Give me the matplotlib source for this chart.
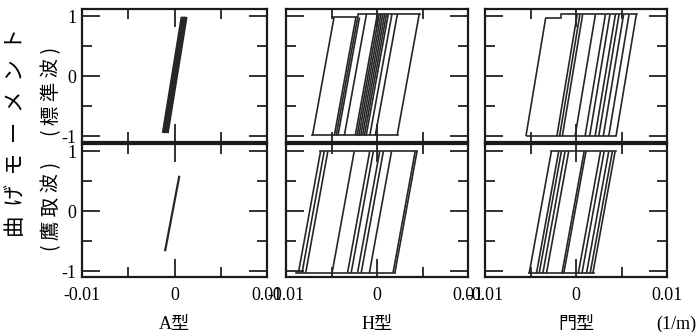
import matplotlib
matplotlib.use("Agg")
import matplotlib.pyplot as plt
from matplotlib.ticker import FixedLocator, NullFormatter

plt.rcParams['font.family'] = ['Liberation Serif', 'Noto Sans CJK JP']
plt.rcParams['axes.unicode_minus'] = False

# branch centres (curvature at M=0), half slope, plateau segments [x0, x1, M]
a_std_c = [-0.0002, 0.0000, 0.0002]
a_std_h = 0.00105
a_std_ends = [-0.95, 0.99]

a_tak_c = [-0.0002]
a_tak_h = 0.00123
a_tak_ends = [-0.67, 0.59]

h_std_c = [-0.0059, -0.0035, -0.0033, -0.0031, -0.0024, -0.0012, -0.0010, -0.0008,
           -0.0006, -0.0004, -0.0002, 0.0000, 0.0004, 0.0010, 0.0034]
h_std_h = 0.0012
h_std_top = [[-0.0048, -0.0021, 0.98], [-0.0021, 0.0047, 1.04]]
h_std_bot = [[-0.0071, 0.0023, -0.99]]

h_tak_c = [-0.0074, -0.0070, -0.0066, -0.0037, -0.0020, -0.0016, -0.0009, -0.0005,
           0.0004, 0.0030, 0.0032]
h_tak_h = 0.0012
h_tak_top = [[-0.0063, 0.0044, 1.0]]
h_tak_bot = [[-0.0089, 0.0020, -1.03]]

m_std_c = [-0.0044, -0.0010, -0.0007, -0.0004, 0.0010, 0.0021, 0.0026, 0.0032,
           0.0036, 0.0041, 0.0047, 0.0055]
m_std_h = 0.0011
m_std_top = [[-0.0033, -0.0016, 0.97], [-0.0016, 0.0067, 1.03]]
m_std_bot = [[-0.0054, 0.0044, -1.0]]

m_tak_c = [-0.0039, -0.0031, -0.0028, -0.0024, -0.0020, -0.0003, -0.0001, 0.0015,
           0.0019, 0.0024, 0.0028, 0.0031]
m_tak_h = 0.0012
m_tak_top = [[-0.0027, 0.0044, 1.0]]
m_tak_bot = [[-0.0052, 0.0020, -1.04]]

col_labels = ['A型', 'H型', '門型']
ink = '#262626'


def level(segs, x):
    for x0, x1, m in segs:
        if x0 - 2e-4 <= x <= x1 + 2e-4:
            return m
    return segs[0][2]


def draw(ax, c, h, top=None, bot=None, ends=None, lw=1.2):
    for ci in c:
        if ends is None:
            m0 = level(bot, ci - h)
            m1 = level(top, ci + h)
        else:
            m0, m1 = ends
        ax.plot([ci + h * m0, ci + h * m1], [m0, m1], color=ink, lw=lw,
                solid_capstyle='butt')
    for segs in (top, bot):
        if segs:
            xs, ys = [], []
            for x0, x1, m in segs:
                xs += [x0, x1]
                ys += [m, m]
            ax.plot(xs, ys, color=ink, lw=lw)


def style(ax, bottom_labels, left_labels):
    ax.set_xlim(-0.01, 0.01)
    ax.set_ylim(-1.1, 1.12)
    ax.xaxis.set_major_locator(FixedLocator([-0.01, 0, 0.01]))
    ax.xaxis.set_minor_locator(FixedLocator([-0.005, 0.005]))
    ax.yaxis.set_major_locator(FixedLocator([-1, 0, 1]))
    ax.yaxis.set_minor_locator(FixedLocator([-0.5, 0.5]))
    ax.tick_params(which='both', direction='in', top=True, right=True,
                   width=1.3, color='#222222', labelsize=13)
    ax.tick_params(which='major', length=13)
    ax.tick_params(which='minor', length=7)
    ax.tick_params(axis='x', pad=7)
    ax.tick_params(axis='y', pad=4)
    if bottom_labels:
        ax.set_xticklabels(['-0.01', '0', '0.01'])
    else:
        ax.xaxis.set_major_formatter(NullFormatter())
    if left_labels:
        ax.set_yticklabels(['-1', '0', '1'])
    else:
        ax.yaxis.set_major_formatter(NullFormatter())
    for s in ax.spines.values():
        s.set_linewidth(1.6)
        s.set_color('#1a1a1a')


fig = plt.figure(figsize=(7.0, 3.32), dpi=100)
W, H = 700.0, 332.0
lefts = [82, 286, 485]
widths = [185, 182, 182]
rows = [(9, 142), (144, 277)]

axes = {}
for r, (y0, y1) in enumerate(rows):
    for k in range(3):
        ax = fig.add_axes([lefts[k] / W, 1 - y1 / H, widths[k] / W, (y1 - y0) / H])
        style(ax, r == 1, k == 0)
        axes[(r, k)] = ax

draw(axes[(0, 0)], a_std_c, a_std_h, ends=a_std_ends, lw=2.4)
draw(axes[(1, 0)], a_tak_c, a_tak_h, ends=a_tak_ends, lw=1.6)
draw(axes[(0, 1)], h_std_c, h_std_h, h_std_top, h_std_bot)
draw(axes[(1, 1)], h_tak_c, h_tak_h, h_tak_top, h_tak_bot)
draw(axes[(0, 2)], m_std_c, m_std_h, m_std_top, m_std_bot)
draw(axes[(1, 2)], m_tak_c, m_tak_h, m_tak_top, m_tak_bot)

for k, lab in enumerate(col_labels):
    fig.text((lefts[k] + widths[k] / 2) / W, 1 - 324 / H, lab,
             ha='center', va='center', fontsize=13)
fig.text(676 / W, 1 - 324 / H, '(1/m)', ha='center', va='center', fontsize=13)

cjk = ['Noto Sans CJK JP', 'DejaVu Sans']
fig.text(16 / W, 1 - 132 / H, '曲  げ  モ  ー  メ  ン  ト', rotation=90,
         ha='center', va='center', fontsize=15.5, family=cjk)
fig.text(52 / W, 1 - 91 / H, '( 標 準 波 )', rotation=90, ha='center',
         va='center', fontsize=14, family=cjk)
fig.text(52 / W, 1 - 206 / H, '( 鷹 取 波 )', rotation=90, ha='center',
         va='center', fontsize=14, family=cjk)

fig.savefig('out.png', dpi=100)
